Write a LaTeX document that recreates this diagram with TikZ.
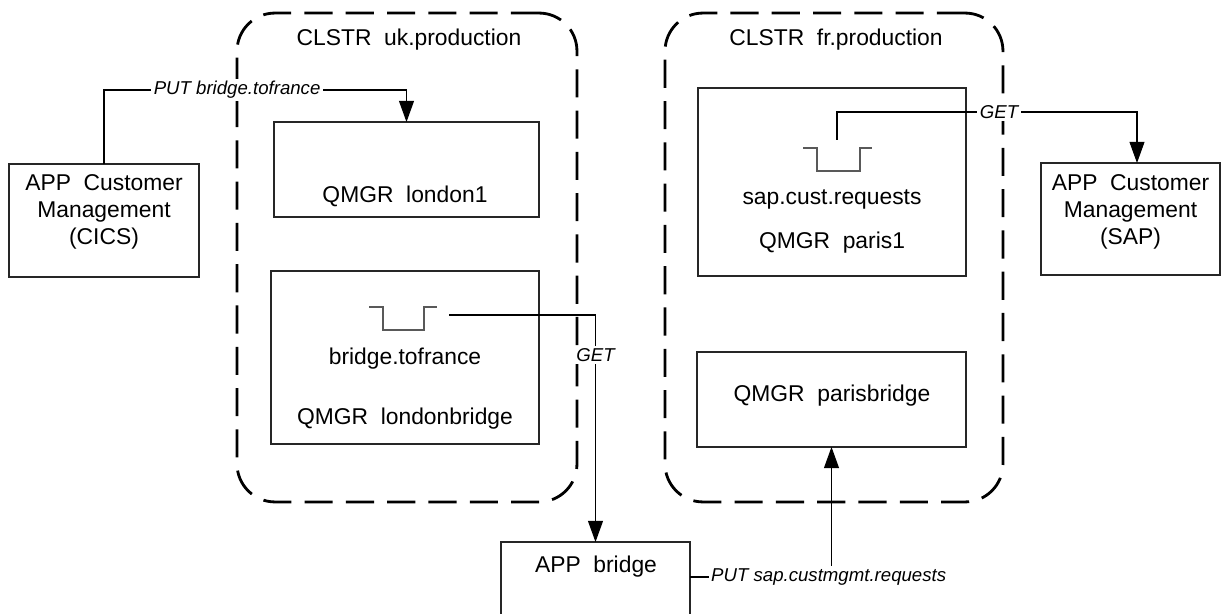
\documentclass[tikz,border=0pt]{standalone}
\usepackage{fontspec}
\setmainfont{Liberation Sans}
\usetikzlibrary{arrows.meta}

\tikzset{
  cluster/.style={draw,line width=1.6pt,dash pattern=on 16pt off 7.5pt,rounded corners=0.76cm,inner sep=0pt,outer sep=0pt},
  box/.style={draw=black!85,line width=0.7pt,inner sep=0pt,outer sep=0pt},
  txt/.style={font=\fontsize{13pt}{15.5pt}\selectfont,align=center,inner sep=0pt},
  lbl/.style={font=\fontsize{10.6pt}{12pt}\selectfont\itshape,fill=white,inner sep=1.5pt},
  flow/.style={draw,line width=0.6pt,-{Triangle[length=12pt,width=8.5pt]}},
  queue/.style={draw=black!65,line width=0.9pt}
}

\begin{document}
\begin{tikzpicture}[x=0.02cm,y=-0.02cm]
      \clip (0,0) rectangle (1228,614);
      % clusters
      \node[cluster,minimum width=6.8cm,minimum height=9.78cm] (ukclstr) at (407,257.5) {};
      \node[cluster,minimum width=6.76cm,minimum height=9.78cm] (frclstr) at (834,257.5) {};
      \node[txt] (uktitle) at (409,40) {CLSTR\ \ uk.production};
      \node[txt] (frtitle) at (836,40) {CLSTR\ \ fr.production};
      % queue managers and apps
      \node[box,minimum width=3.8cm,minimum height=2.26cm] (cics) at (104,220.5) {};
      \node[box,minimum width=5.3cm,minimum height=1.9cm] (london1) at (406.5,169.5) {};
      \node[box,minimum width=5.36cm,minimum height=3.46cm] (londonbridge) at (405,357.5) {};
      \node[box,minimum width=5.36cm,minimum height=3.76cm] (paris1) at (832,182) {};
      \node[box,minimum width=5.38cm,minimum height=1.9cm] (parisbridge) at (831.5,399.5) {};
      \node[box,minimum width=3.58cm,minimum height=2.24cm] (sap) at (1130.5,219) {};
      \node[box,minimum width=3.78cm,minimum height=1.66cm] (appbridge) at (595.5,583.5) {};
      \node[txt] (cicstxt) at (104,212) {APP\ \ Customer\\Management\\(CICS)};
      \node[txt] (saptxt) at (1130.5,212) {APP\ \ Customer\\Management\\(SAP)};
      \node[txt] (london1txt) at (405,196) {QMGR\ \ london1};
      \node[txt] (lqtxt) at (405,359) {bridge.tofrance};
      \node[txt] (londonbridgetxt) at (405,419) {QMGR\ \ londonbridge};
      \node[txt] (pqtxt) at (832,199) {sap.cust.requests};
      \node[txt] (paris1txt) at (832,243) {QMGR\ \ paris1};
      \node[txt] (parisbridgetxt) at (832,396) {QMGR\ \ parisbridge};
      \node[txt] (appbridgetxt) at (596,567) {APP\ \ bridge};
      % queues
      \draw[queue] (369,307) -- (383,307) -- (383,330) -- (424,330) -- (424,307) -- (437,307);
      \draw[queue] (803,148) -- (817,148) -- (817,171) -- (860,171) -- (860,148) -- (872,148);
      \coordinate (lqout) at (449,315);
      \coordinate (pqout) at (837,140);
      \coordinate (puttop) at (406.5,90);
      \coordinate (gettop) at (837,112);
      \coordinate (apout) at (690,577);
      % message flows
      \draw[flow] (cics.north) |- node[lbl,pos=0.72] {PUT bridge.tofrance} (puttop) -- (london1.north);
      \draw[flow] (lqout) -| node[lbl,pos=0.588] {GET} (appbridge.north);
      \draw[flow] (pqout) -- (gettop) -| node[lbl,pos=0.27] {GET} ([xshift=0.13cm]sap.north);
      \draw[flow] (apout) -| node[lbl,pos=0.49] {PUT sap.custmgmt.requests} (parisbridge.south);
\end{tikzpicture}
\end{document}
